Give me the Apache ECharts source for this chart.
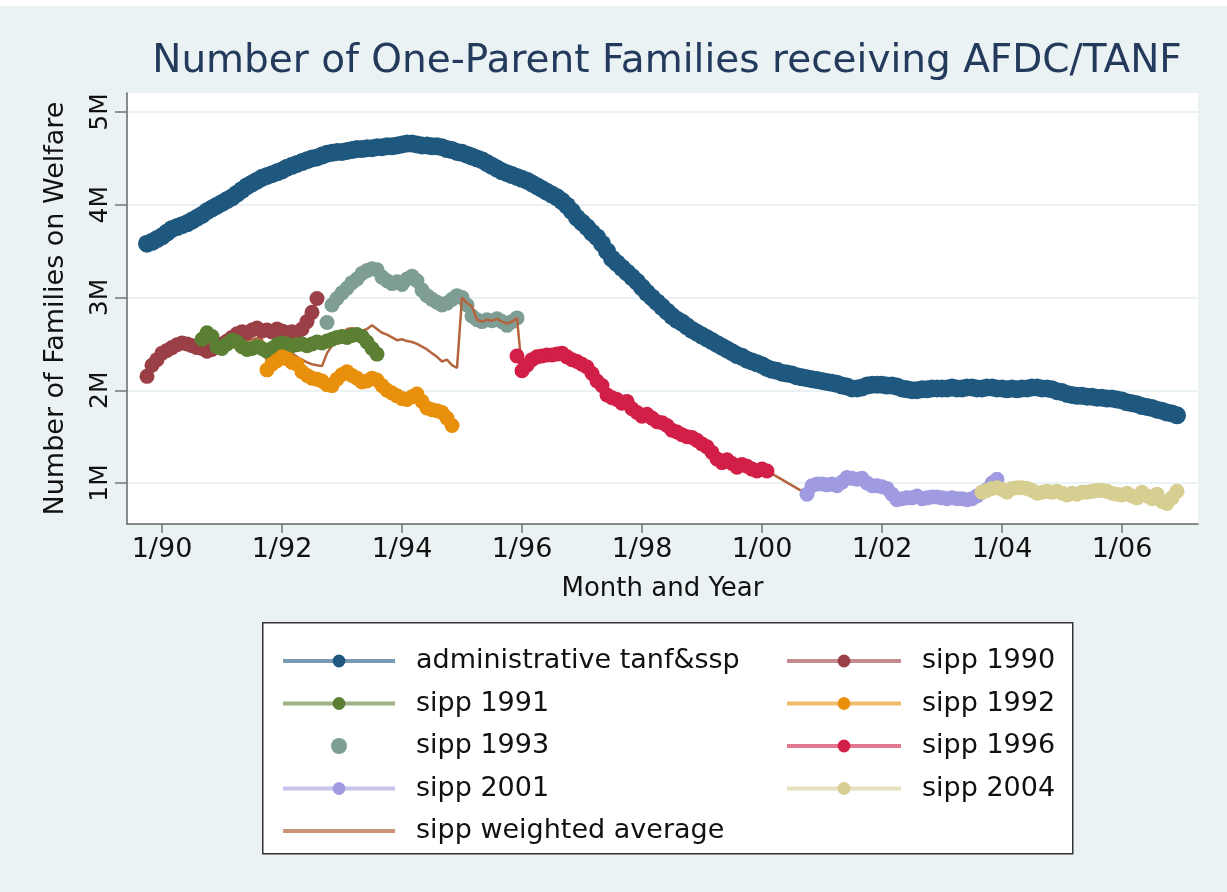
<!DOCTYPE html>
<html>
<head>
<meta charset="utf-8">
<title>Number of One-Parent Families receiving AFDC/TANF</title>
<script src="https://cdn.jsdelivr.net/npm/echarts@6/dist/echarts.min.js"></script>
<style>
html, body { margin: 0; padding: 0; background: #fff; }
#chart { width: 1227px; height: 892px; }
</style>
</head>
<body>
<div id="chart"></div>
<script>
// months counted from 1/1990 (0 = Jan 1990), values in millions of families
const xTicks = [0, 24, 48, 72, 96, 120, 144, 168, 192];
const xTickLabels = ['1/90', '1/92', '1/94', '1/96', '1/98', '1/00', '1/02', '1/04', '1/06'];
const yTicks = [1, 2, 3, 4, 5];
const yTickLabels = ['1M', '2M', '3M', '4M', '5M'];

const adminStart = -3;
const admin = [
  3.58, 3.60, 3.63, 3.66, 3.70, 3.74, 3.76, 3.78, 3.80, 3.83, 3.86, 3.89,
  3.93, 3.96, 3.99, 4.02, 4.05, 4.08, 4.12, 4.16, 4.20, 4.23, 4.26, 4.29,
  4.31, 4.33, 4.35, 4.37, 4.40, 4.42, 4.44, 4.46, 4.48, 4.50, 4.51, 4.53,
  4.55, 4.56, 4.57, 4.57, 4.58, 4.59, 4.60, 4.60, 4.61, 4.61, 4.62, 4.62,
  4.63, 4.63, 4.64, 4.65, 4.66, 4.66, 4.65, 4.64, 4.64, 4.63, 4.63, 4.62,
  4.60, 4.59, 4.57, 4.56, 4.54, 4.52, 4.50, 4.48, 4.45, 4.42, 4.39, 4.36,
  4.34, 4.32, 4.30, 4.28, 4.26, 4.23, 4.20, 4.17, 4.14, 4.11, 4.08, 4.04,
  3.99, 3.93, 3.86, 3.81, 3.76, 3.70, 3.65, 3.58, 3.50, 3.42, 3.37, 3.32,
  3.27, 3.22, 3.17, 3.11, 3.05, 3.00, 2.95, 2.90, 2.85, 2.80, 2.76, 2.73,
  2.69, 2.65, 2.62, 2.59, 2.56, 2.53, 2.50, 2.47, 2.44, 2.41, 2.38, 2.36,
  2.33, 2.31, 2.29, 2.27, 2.24, 2.22, 2.21, 2.19, 2.18, 2.17, 2.15, 2.14,
  2.13, 2.12, 2.11, 2.10, 2.09, 2.08, 2.07, 2.05, 2.04, 2.02, 2.02, 2.03,
  2.05, 2.06, 2.06, 2.06, 2.05, 2.05, 2.04, 2.02, 2.01, 2.00, 2.00, 2.01,
  2.01, 2.02, 2.02, 2.02, 2.02, 2.03, 2.02, 2.02, 2.03, 2.03, 2.02, 2.02,
  2.03, 2.03, 2.02, 2.02, 2.01, 2.02, 2.01, 2.02, 2.02, 2.03, 2.03, 2.02,
  2.02, 2.01, 1.99, 1.98, 1.96, 1.95, 1.94, 1.94, 1.93, 1.93, 1.92, 1.92,
  1.91, 1.91, 1.90, 1.89, 1.87, 1.86, 1.85, 1.83, 1.82, 1.81, 1.79, 1.78,
  1.76, 1.75, 1.73
];

const sipp1990Start = -3;
const sipp1990 = [
  2.15, 2.27, 2.33, 2.40, 2.43, 2.46, 2.49, 2.51, 2.50, 2.48, 2.46, 2.45,
  2.42, 2.44, 2.47, 2.50, 2.53, 2.57, 2.61, 2.63, 2.62, 2.65, 2.67, 2.64,
  2.65, 2.63, 2.66, 2.64, 2.62, 2.63, 2.62, 2.66, 2.74, 2.84, 2.99
];

const sipp1991Start = 8;
const sipp1991 = [
  2.55, 2.62, 2.58, 2.47, 2.45, 2.50, 2.54, 2.52, 2.47, 2.44, 2.45, 2.47,
  2.45, 2.42, 2.45, 2.49, 2.51, 2.50, 2.48, 2.49, 2.50, 2.48, 2.50, 2.52,
  2.51, 2.53, 2.55, 2.57, 2.58, 2.57, 2.59, 2.60, 2.58, 2.52, 2.45, 2.39
];

const sipp1992Start = 21;
const sipp1992 = [
  2.22, 2.28, 2.32, 2.36, 2.34, 2.30, 2.28, 2.20, 2.16, 2.13, 2.12, 2.10,
  2.06, 2.05, 2.12, 2.17, 2.20, 2.16, 2.13, 2.09, 2.10, 2.13, 2.11, 2.05,
  2.00, 1.97, 1.94, 1.91, 1.90, 1.93, 1.96, 1.88, 1.81, 1.79, 1.78, 1.76,
  1.70, 1.62
];

const sipp1993Start = 33;
const sipp1993 = [
  2.73, 2.92, 2.99, 3.05, 3.10, 3.16, 3.20, 3.26, 3.29, 3.31, 3.30, 3.22,
  3.18, 3.15, 3.17, 3.14, 3.20, 3.23, 3.18, 3.08, 3.02, 2.98, 2.95, 2.92,
  2.94, 2.98, 3.02, 3.00, 2.92, 2.80, 2.76, 2.74, 2.76, 2.75, 2.77, 2.74,
  2.70, 2.74, 2.78
];

const sipp1996Start = 71;
const sipp1996 = [
  2.37, 2.21, 2.27, 2.33, 2.36, 2.37, 2.38, 2.38, 2.39, 2.40, 2.36, 2.33,
  2.31, 2.28, 2.25, 2.18, 2.10, 2.05, 1.95, 1.92, 1.90, 1.86, 1.88, 1.80,
  1.76, 1.72, 1.74, 1.70, 1.66, 1.65, 1.62, 1.57, 1.55, 1.52, 1.50, 1.49,
  1.46, 1.42, 1.39, 1.33, 1.26, 1.22, 1.25, 1.21, 1.17, 1.20, 1.18, 1.15,
  1.13, 1.15, 1.13
];

const sipp2001Start = 129;
const sipp2001 = [
  0.88, 0.97, 0.99, 0.99, 0.98, 0.99, 0.97, 1.01, 1.06, 1.05, 1.04, 1.05,
  1.00, 0.97, 0.97, 0.96, 0.94, 0.88, 0.82, 0.83, 0.84, 0.84, 0.86, 0.83,
  0.84, 0.85, 0.85, 0.84, 0.83, 0.84, 0.83, 0.83, 0.82, 0.83, 0.86, 0.90,
  0.93, 1.00, 1.04
];

const sipp2004Start = 164;
const sipp2004 = [
  0.90, 0.92, 0.94, 0.95, 0.93, 0.90, 0.94, 0.95, 0.95, 0.94, 0.92, 0.89,
  0.90, 0.91, 0.90, 0.91, 0.89, 0.87, 0.89, 0.88, 0.90, 0.90, 0.91, 0.92,
  0.92, 0.91, 0.89, 0.88, 0.87, 0.89, 0.86, 0.84, 0.90, 0.86, 0.83, 0.88,
  0.80, 0.78, 0.84, 0.91
];

// weighted average: 10/89 - 1/00, then 9/00 - 12/06 (no panel in between)
const weightedAStart = -3;
const weightedA = [
  2.15, 2.27, 2.33, 2.40, 2.43, 2.46, 2.49, 2.51, 2.50, 2.48, 2.46, 2.48,
  2.52, 2.50, 2.46, 2.47, 2.51, 2.55, 2.56, 2.55, 2.53, 2.55, 2.56, 2.55,
  2.30, 2.34, 2.39, 2.44, 2.42, 2.40, 2.36, 2.33, 2.30, 2.28, 2.27, 2.26,
  2.40, 2.48, 2.55, 2.60, 2.66, 2.67, 2.66, 2.64, 2.66, 2.70, 2.66, 2.62,
  2.60, 2.57, 2.54, 2.55, 2.53, 2.52, 2.50, 2.47, 2.44, 2.40, 2.36, 2.31,
  2.33, 2.27, 2.24, 3.00, 2.94, 2.90, 2.76, 2.74, 2.76, 2.75, 2.77, 2.74,
  2.72, 2.74, 2.78, 2.21,
  2.27, 2.33, 2.36, 2.37, 2.38, 2.38, 2.39, 2.40, 2.36, 2.33, 2.31, 2.28,
  2.25, 2.18, 2.10, 2.05, 1.95, 1.92, 1.90, 1.86, 1.88, 1.80, 1.76, 1.72,
  1.74, 1.70, 1.66, 1.65, 1.62, 1.57, 1.55, 1.52, 1.50, 1.49, 1.46, 1.42,
  1.39, 1.33, 1.26, 1.22, 1.25, 1.21, 1.17, 1.20, 1.18, 1.15, 1.13, 1.15,
  1.13
];
const weightedBStart = 129;
const weightedB = [
  0.88, 0.97, 0.99, 0.99, 0.98, 0.99, 0.97, 1.01, 1.06, 1.05, 1.04, 1.05,
  1.00, 0.97, 0.97, 0.96, 0.94, 0.88, 0.82, 0.83, 0.84, 0.84, 0.86, 0.83,
  0.84, 0.85, 0.85, 0.84, 0.83, 0.84, 0.83, 0.83, 0.82, 0.83, 0.86, 0.90,
  0.92, 0.94, 0.95, 0.93, 0.90, 0.94, 0.95, 0.95, 0.94, 0.92, 0.89, 0.90,
  0.91, 0.90, 0.91, 0.89, 0.87, 0.89, 0.88, 0.90, 0.90, 0.91, 0.92, 0.92,
  0.91, 0.89, 0.88, 0.87, 0.89, 0.86, 0.84, 0.90, 0.86, 0.83, 0.88, 0.80,
  0.78, 0.84, 0.91
];

function monthly(start, vals) {
  return vals.map((v, i) => [start + i, v]);
}

const font = 'DejaVu Sans';
let mycharts = echarts.init(document.getElementById('chart'));

function dotLine(name, color, data, size) {
  return {
    name: name,
    type: 'line',
    data: data,
    symbol: 'circle',
    symbolSize: size,
    itemStyle: { color: color },
    lineStyle: { color: color, width: 3 },
    emphasis: { disabled: true }
  };
}

let options = {
  animation: false,
  backgroundColor: '#eaf2f3',
  title: {
    text: 'Number of One-Parent Families receiving AFDC/TANF',
    left: 662,
    top: 37,
    textAlign: 'center',
    textStyle: { fontFamily: font, fontSize: 39, fontWeight: 'normal', color: '#243a5c' }
  },
  graphic: [
    { type: 'rect', left: 0, top: 0, z: 0, shape: { width: 1227, height: 6 }, style: { fill: '#fff' } },
    { type: 'rect', left: 262, top: 622, z: 1, shape: { width: 810, height: 231 }, style: { fill: '#fff', stroke: '#333', lineWidth: 1.5 } }
  ],
  grid: {
    left: 127,
    right: 29,
    top: 93,
    bottom: 368,
    show: true,
    backgroundColor: '#fff',
    borderWidth: 0
  },
  xAxis: {
    type: 'value',
    min: -7,
    max: 207.2,
    name: 'Month and Year',
    nameLocation: 'middle',
    nameGap: 52,
    nameTextStyle: { fontFamily: font, fontSize: 26, color: '#111' },
    axisLine: { onZero: false, lineStyle: { color: '#666', width: 1.5 } },
    axisTick: { customValues: xTicks, length: 9, lineStyle: { color: '#777', width: 1.5 } },
    axisLabel: {
      customValues: xTicks,
      margin: 12,
      fontFamily: font,
      fontSize: 27,
      color: '#111',
      formatter: v => xTickLabels[xTicks.indexOf(v)]
    },
    splitLine: { show: false }
  },
  yAxis: {
    type: 'value',
    min: 0.558,
    max: 5.205,
    name: 'Number of Families on Welfare',
    nameLocation: 'middle',
    nameRotate: 90,
    nameGap: 58,
    nameTextStyle: { fontFamily: font, fontSize: 27, color: '#111' },
    axisLine: { show: true, onZero: false, lineStyle: { color: '#666', width: 1.5 } },
    axisTick: { show: true, customValues: yTicks, length: 12, lineStyle: { color: '#777', width: 1.5 } },
    axisLabel: {
      customValues: yTicks,
      rotate: 90,
      margin: 14,
      fontFamily: font,
      fontSize: 25,
      color: '#111',
      formatter: v => yTickLabels[yTicks.indexOf(v)]
    },
    splitLine: { show: true, lineStyle: { color: '#eaf2f3', width: 2 } }
  },
  legend: [
    {
      orient: 'vertical',
      left: 276,
      top: 641,
      z: 5,
      selectedMode: false,
      itemWidth: 112,
      itemHeight: 16,
      itemGap: 12.5,
      lineStyle: { opacity: 0.6, width: 4 },
      textStyle: { fontFamily: font, fontSize: 27, lineHeight: 30, color: '#111', padding: [0, 0, 0, 16] },
      data: [
        'administrative tanf&ssp',
        'sipp 1991',
        'sipp 1993',
        'sipp 2001',
        { name: 'sipp weighted average', icon: 'path://M0,0 L112,0 L112,4 L0,4 Z', itemStyle: { opacity: 0.7 } }
      ]
    },
    {
      orient: 'vertical',
      left: 780,
      top: 641,
      z: 5,
      selectedMode: false,
      itemWidth: 114,
      itemHeight: 16,
      itemGap: 12.5,
      lineStyle: { opacity: 0.6, width: 4 },
      textStyle: { fontFamily: font, fontSize: 27, lineHeight: 30, color: '#111', padding: [0, 0, 0, 16] },
      data: ['sipp 1990', 'sipp 1992', 'sipp 1996', 'sipp 2004']
    }
  ],
  series: [
    dotLine('administrative tanf&ssp', '#1f587f', monthly(adminStart, admin), 18),
    dotLine('sipp 1990', '#9b3f46', monthly(sipp1990Start, sipp1990), 15),
    dotLine('sipp 1991', '#5b7f33', monthly(sipp1991Start, sipp1991), 15),
    dotLine('sipp 1992', '#e8900c', monthly(sipp1992Start, sipp1992), 15),
    {
      name: 'sipp 1993',
      type: 'scatter',
      data: monthly(sipp1993Start, sipp1993),
      symbolSize: 15,
      itemStyle: { color: '#7e9d94', opacity: 1 },
      emphasis: { disabled: true }
    },
    dotLine('sipp 1996', '#d11f47', monthly(sipp1996Start, sipp1996), 15),
    dotLine('sipp 2001', '#a09be0', monthly(sipp2001Start, sipp2001), 15),
    dotLine('sipp 2004', '#d6cf91', monthly(sipp2004Start, sipp2004), 15),
    {
      name: 'sipp weighted average',
      type: 'line',
      data: monthly(weightedAStart, weightedA).concat(monthly(weightedBStart, weightedB)),
      symbol: 'none',
      itemStyle: { color: '#b4653d' },
      lineStyle: { color: '#b4653d', width: 2.5 },
      emphasis: { disabled: true }
    }
  ]
};
mycharts.setOption(options, true);
window.addEventListener('resize', () => mycharts.resize());
</script>
</body>
</html>
